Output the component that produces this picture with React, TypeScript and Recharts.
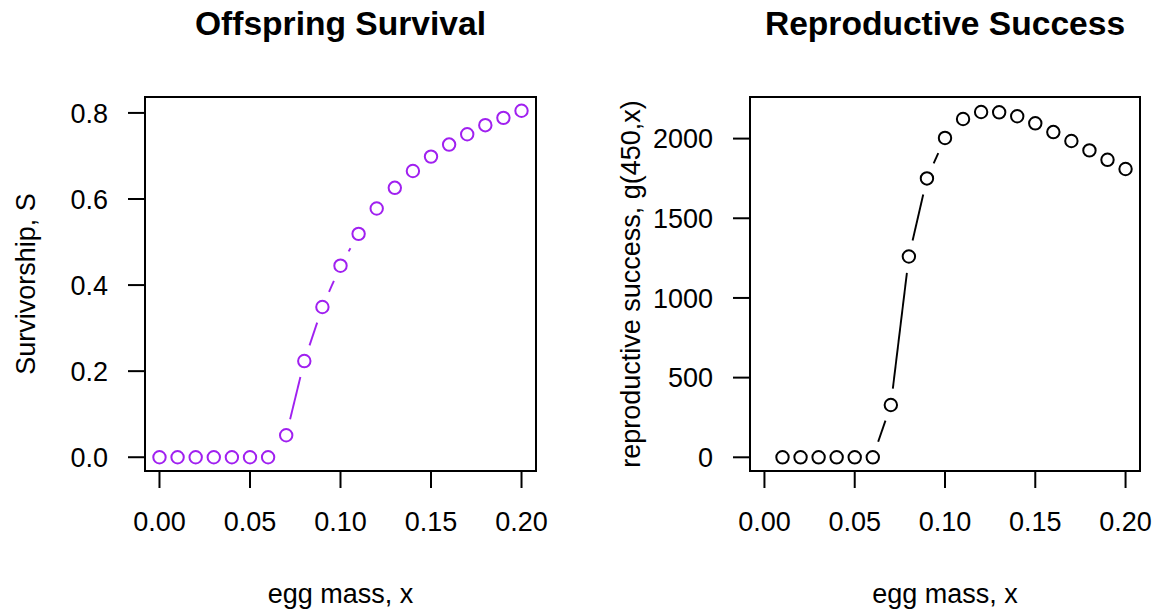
import { LineChart, Line, XAxis, YAxis, ReferenceArea } from 'recharts';

// egg mass values and the curves
const eggMass = [0, 0.01, 0.02, 0.03, 0.04, 0.05, 0.06, 0.07, 0.08, 0.09, 0.1, 0.11, 0.12, 0.13, 0.14, 0.15, 0.16, 0.17, 0.18, 0.19, 0.2];
const survivorship = [0, 0, 0, 0, 0, 0, 0, 0.051, 0.2235, 0.349, 0.445, 0.519, 0.578, 0.626, 0.665, 0.6985, 0.7265, 0.7505, 0.7715, 0.7885, 0.805];

const eggMassRS = [0.01, 0.02, 0.03, 0.04, 0.05, 0.06, 0.07, 0.08, 0.09, 0.1, 0.11, 0.12, 0.13, 0.14, 0.15, 0.16, 0.17, 0.18, 0.19, 0.2];
const reproSuccess = [0, 0, 0, 0, 0, 0, 328, 1260, 1750, 2004, 2123, 2167, 2165, 2140, 2096, 2041, 1985, 1926, 1867, 1809];

const xTicks = [0, 0.05, 0.1, 0.15, 0.2];
const survTicks = [0, 0.2, 0.4, 0.6, 0.8];
const rsTicks = [0, 500, 1000, 1500, 2000];

const survData = eggMass.map((x, i) => ({ x, y: survivorship[i] }));
const rsData = eggMassRS.map((x, i) => ({ x, y: reproSuccess[i] }));

const FONT = '"Liberation Sans", Arial, Helvetica, sans-serif';
const W = 578;
const H = 609;
const TOP = 97;
const BOTTOM = 471;
const X_DOMAIN: [number, number] = [-0.008, 0.208];
const GAP = 16.5; // R type="b" leaves this much space around each point

// circle plus the trimmed segment towards the next point, like plot(type = "b")
function makeDot(color: string) {
  return (props: any) => {
    const { cx, cy, index, points } = props;
    const next = points && points[index + 1];
    let seg = null;
    if (next && next.x != null && next.y != null) {
      const dx = next.x - cx;
      const dy = next.y - cy;
      const len = Math.hypot(dx, dy);
      if (len > 2 * GAP) {
        const f = GAP / len;
        seg = (
          <line
            x1={cx + f * dx}
            y1={cy + f * dy}
            x2={next.x - f * dx}
            y2={next.y - f * dy}
            stroke={color}
            strokeWidth={1.9}
          />
        );
      }
    }
    return (
      <g key={`pt-${index}`}>
        <circle cx={cx} cy={cy} r={6.2} fill="none" stroke={color} strokeWidth={2} />
        {seg}
      </g>
    );
  };
}

function Panel({
  offsetX, boxLeft, boxRight, data, color, yDomain, yTicks, yFmt, title, ylab,
}: {
  offsetX: number;
  boxLeft: number;
  boxRight: number;
  data: { x: number; y: number }[];
  color: string;
  yDomain: [number, number];
  yTicks: number[];
  yFmt: (v: number) => string;
  title: string;
  ylab: string;
}) {
  const tick = { fill: '#000', fontSize: 27, fontFamily: FONT };
  const axisLine = { stroke: '#000', strokeWidth: 2 };
  const tickLine = { stroke: '#000', strokeWidth: 2 };
  const cx = (boxLeft + boxRight) / 2;
  const cy = (TOP + BOTTOM) / 2;
  const ylx = boxLeft - 110;

  return (
    <div style={{ position: 'absolute', left: offsetX, top: 0, width: W, height: H }}>
      <LineChart
        width={W}
        height={H}
        data={data}
        margin={{ top: TOP, right: W - boxRight, bottom: 0, left: 0 }}
      >
        <XAxis
          type="number"
          dataKey="x"
          domain={X_DOMAIN}
          allowDataOverflow
          ticks={xTicks}
          interval={0}
          tickFormatter={(v: number) => v.toFixed(2)}
          height={H - BOTTOM}
          tickSize={17}
          tickMargin={24}
          tick={tick}
          axisLine={axisLine}
          tickLine={tickLine}
        />
        <YAxis
          type="number"
          domain={yDomain}
          allowDataOverflow
          ticks={yTicks}
          interval={0}
          tickFormatter={yFmt}
          width={boxLeft}
          tickSize={17}
          tickMargin={20}
          tick={tick}
          axisLine={axisLine}
          tickLine={tickLine}
        />
        {/* plot frame (R's box()) */}
        <ReferenceArea
          x1={X_DOMAIN[0]}
          x2={X_DOMAIN[1]}
          y1={yDomain[0]}
          y2={yDomain[1]}
          fill="none"
          fillOpacity={0}
          stroke="#000"
          strokeWidth={2}
          strokeOpacity={1}
          ifOverflow="visible"
        />
        <Line
          dataKey="y"
          stroke="none"
          dot={makeDot(color)}
          activeDot={false}
          isAnimationActive={false}
        />
      </LineChart>
      <svg width={W} height={H} style={{ position: 'absolute', left: 0, top: 0, pointerEvents: 'none' }}>
        <text x={cx} y={35} textAnchor="middle" fontFamily={FONT} fontWeight="bold" fontSize={33.6} fill="#000">
          {title}
        </text>
        <text x={cx} y={603} textAnchor="middle" fontFamily={FONT} fontSize={27} fill="#000">
          egg mass, x
        </text>
        <text x={ylx} y={cy} transform={`rotate(-90 ${ylx} ${cy})`} textAnchor="middle" fontFamily={FONT} fontSize={27} fill="#000">
          {ylab}
        </text>
      </svg>
    </div>
  );
}

export default function App() {
  return (
    <div style={{ position: 'absolute', left: 0, top: 0, width: 1156, height: 609, background: '#fff' }}>
      <Panel
        offsetX={0}
        boxLeft={145}
        boxRight={536}
        data={survData}
        color="#A020F0"
        yDomain={[-0.032, 0.837]}
        yTicks={survTicks}
        yFmt={(v) => v.toFixed(1)}
        title="Offspring Survival"
        ylab="Survivorship, S"
      />
      <Panel
        offsetX={578}
        boxLeft={172}
        boxRight={562}
        data={rsData}
        color="#000"
        yDomain={[-86, 2261]}
        yTicks={rsTicks}
        yFmt={(v) => String(v)}
        title="Reproductive Success"
        ylab="reproductive success, g(450,x)"
      />
    </div>
  );
}
